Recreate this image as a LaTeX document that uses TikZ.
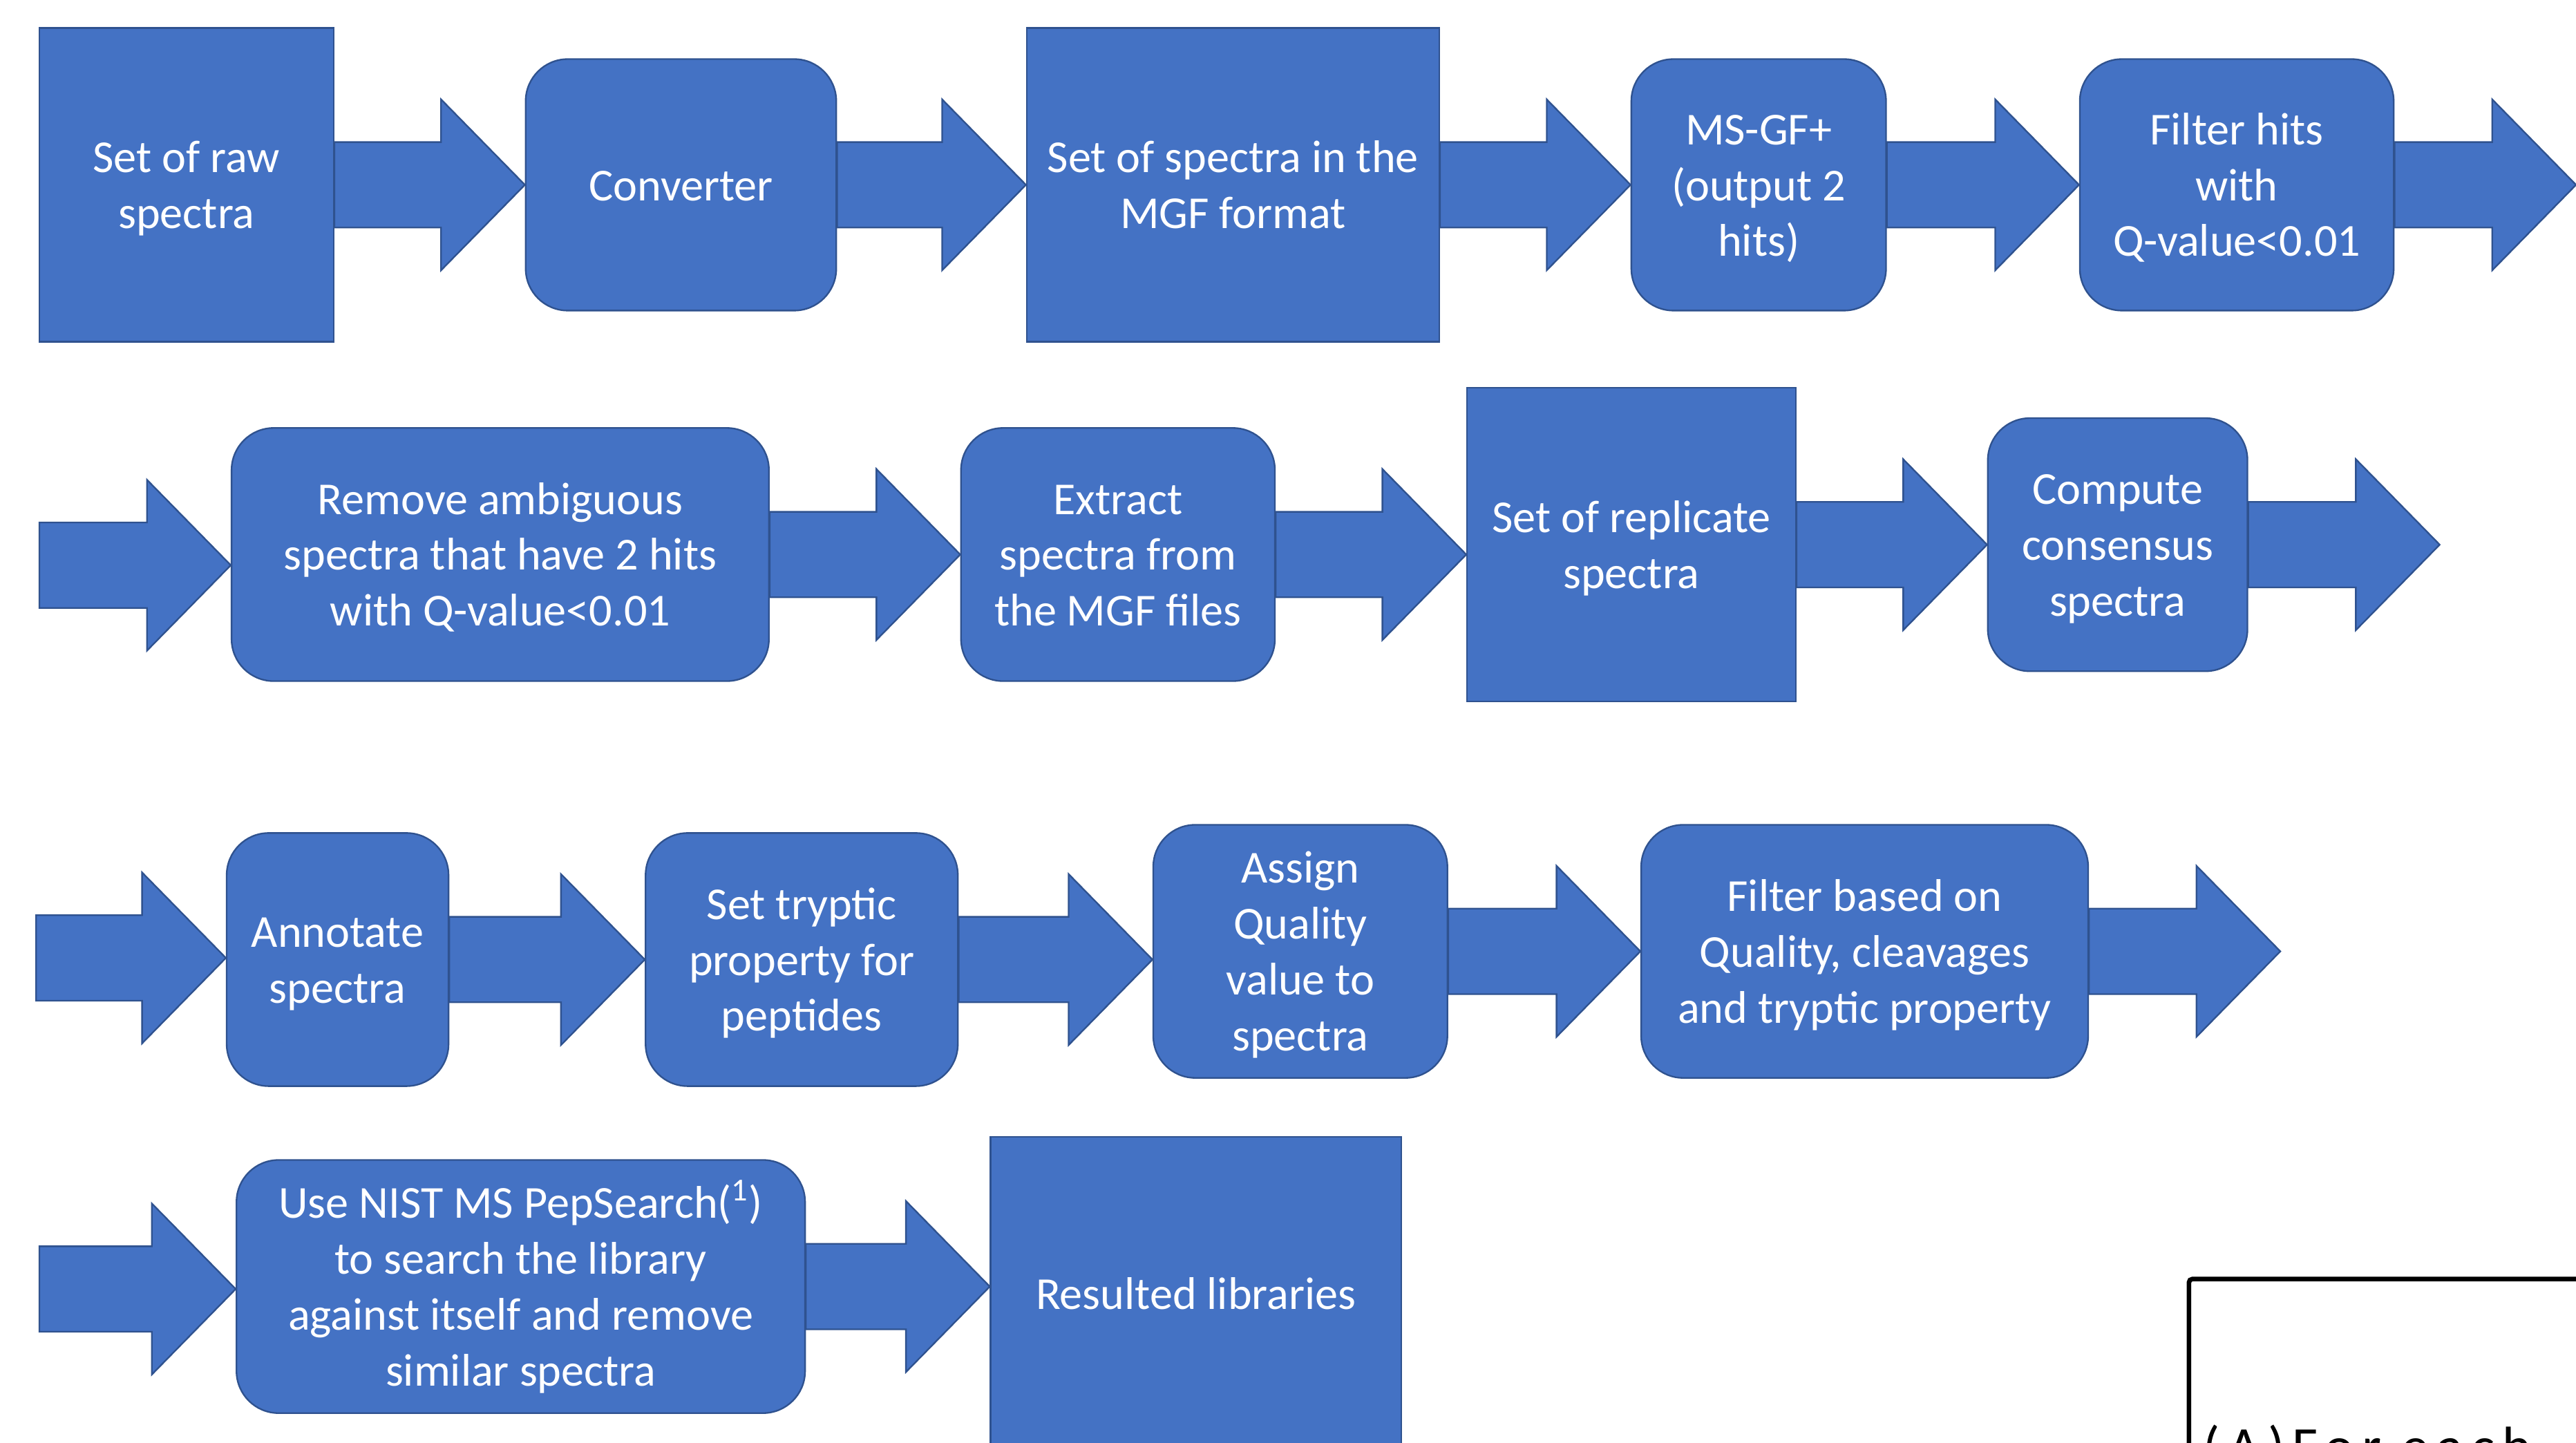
\documentclass[tikz,border=0pt]{standalone}
\usepackage{fontspec}
\setmainfont{Carlito}
\usetikzlibrary{calc}
\definecolor{boxfill}{HTML}{4472C4}
\definecolor{boxline}{HTML}{2F528F}
\newcommand\ls{\rule[-5.35pt]{0pt}{24.2pt}}
\tikzset{
  base/.style={fill=boxfill, draw=boxline, line width=0.7pt, text=white, align=center,
    inner sep=0pt, font=\fontsize{19.8}{24.2}\selectfont},
  sqbox/.style={base, rectangle},
  rbox/.style={base, rectangle, rounded corners=0.64cm},
  barrow/.style={fill=boxfill, draw=boxline, line width=0.7pt, line join=miter},
}
\newcommand\blockarrow[2]{%
  \path[barrow] let \p1=#1, \p2=#2 in
    (\x1,\y1+0.65cm) -- (\x2-1.275cm,\y1+0.65cm) -- (\x2-1.275cm,\y1+1.3cm) --
    (\x2,\y1) -- (\x2-1.275cm,\y1-1.3cm) -- (\x2-1.275cm,\y1-0.65cm) --
    (\x1,\y1-0.65cm) -- cycle;}
\begin{document}
\begin{tikzpicture}[x=0.025cm, y=-0.025cm]
\useasboundingbox (0,0) rectangle (1568,878);
\fill[white] (0,0) rectangle (1568,878);
% row 1
\node[sqbox, minimum width=4.475cm, minimum height=4.775cm] (b1) at (113.5,112.5) {\ls Set of raw\\spectra\ls};
\node[rbox, minimum width=4.725cm, minimum height=3.825cm] (b2) at (414.5,112.5) {\ls Converter\ls};
\node[sqbox, minimum width=6.275cm, minimum height=4.775cm] (b3) at (750.5,112.5) {\ls Set of spectra in the\\MGF format\ls};
\node[rbox, minimum width=3.875cm, minimum height=3.825cm] (b4) at (1070.5,112.5) {\ls MS-GF+\\(output 2\\hits)\ls};
\node[rbox, minimum width=4.775cm, minimum height=3.825cm] (b5) at (1361.5,112.5) {\ls Filter hits\\with\\Q-value<0.01\ls};
\coordinate (e5) at (1568,112.5);
% row 2
\coordinate (s6) at (24,344);
\node[rbox, minimum width=8.175cm, minimum height=3.85cm] (b6) at (304.5,337.5) {\ls Remove ambiguous\\spectra that have 2 hits\\with Q-value<0.01\ls};
\node[rbox, minimum width=4.775cm, minimum height=3.85cm] (b7) at (680.5,337.5) {\ls Extract\\spectra from\\the MGF files\ls};
\node[sqbox, minimum width=5cm, minimum height=4.775cm] (b8) at (993,331.5) {\ls Set of replicate\\spectra\ls};
\node[rbox, minimum width=3.95cm, minimum height=3.85cm] (b9) at (1289,331.5) {\ls Compute\\consensus\\spectra\ls};
\coordinate (e10) at (1485,331.5);
% row 3
\coordinate (s11) at (22,583);
\node[rbox, minimum width=3.375cm, minimum height=3.85cm] (b10) at (205.5,584) {\ls Annotate\\spectra\ls};
\node[rbox, minimum width=4.75cm, minimum height=3.85cm] (b11) at (488,584) {\ls Set tryptic\\property for\\peptides\ls};
\node[rbox, minimum width=4.475cm, minimum height=3.85cm] (b12) at (791.5,579) {\ls Assign\\Quality\\value to\\spectra\ls};
\node[rbox, minimum width=6.8cm, minimum height=3.85cm] (b13) at (1135,579) {\ls Filter based on\\Quality, cleavages\\and tryptic property\ls};
\coordinate (e15) at (1388,579);
% row 4
\coordinate (s16) at (24,784.5);
\node[rbox, minimum width=8.65cm, minimum height=3.85cm] (b14) at (317,783) {\ls Use NIST MS PepSearch(\textsuperscript{1})\\to search the library\\against itself and remove\\similar spectra\ls};
\node[sqbox, minimum width=6.25cm, minimum height=4.775cm] (b15) at (728,787.5) {\ls Resulted libraries\ls};
% arrows
\blockarrow{(b1.east)}{(b2.west)}
\blockarrow{(b2.east)}{(b3.west)}
\blockarrow{(b3.east)}{(b4.west)}
\blockarrow{(b4.east)}{(b5.west)}
\blockarrow{(b5.east)}{(e5)}
\blockarrow{(s6)}{(b6.west)}
\blockarrow{(b6.east)}{(b7.west)}
\blockarrow{(b7.east)}{(b8.west)}
\blockarrow{(b8.east)}{(b9.west)}
\blockarrow{(b9.east)}{(e10)}
\blockarrow{(s11)}{(b10.west)}
\blockarrow{(b10.east)}{(b11.west)}
\blockarrow{(b11.east)}{(b12.west)}
\blockarrow{(b12.east)}{(b13.west)}
\blockarrow{(b13.east)}{(e15)}
\blockarrow{(s16)}{(b14.west)}
\blockarrow{(b14.east)}{(b15.west)}
% note box (cut off)
\node[draw=black, line width=2pt, rounded corners=1.5pt, minimum width=12cm, minimum height=8cm, anchor=north west, inner sep=0pt] (note) at (1331,777) {};
\node[anchor=base west, inner sep=0pt, font=\addfontfeatures{LetterSpace=14}\fontsize{24}{28}\selectfont] (notetext) at (1341,892) {(A)For each};
\end{tikzpicture}
\end{document}
